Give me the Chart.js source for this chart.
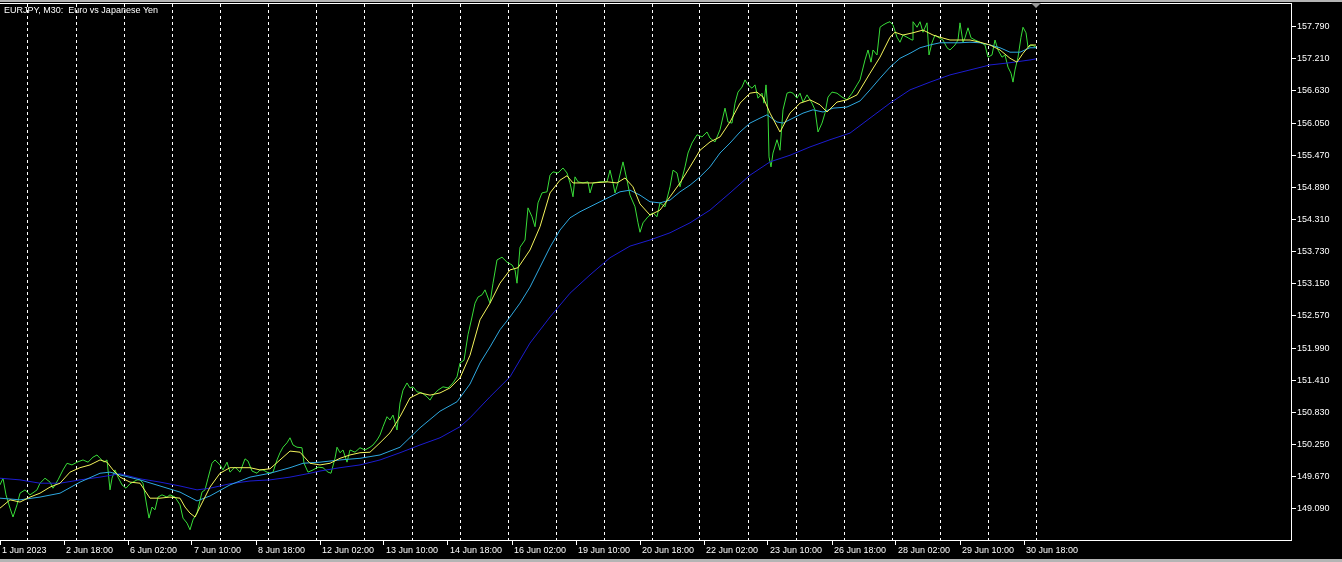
<!DOCTYPE html>
<html>
<head>
<meta charset="utf-8">
<title>EURJPY, M30</title>
<script src="https://cdn.jsdelivr.net/npm/chart.js@4.4.0/dist/chart.umd.min.js"></script>
<style>
  html, body { margin: 0; padding: 0; background: #b4b4b4; overflow: hidden; }
  #wrap { position: absolute; left: 0; top: 2px; width: 1342px; height: 557px; background: #000; }
</style>
</head>
<body>
<div id="wrap"><canvas id="chart" width="1342" height="557"></canvas></div>
<script>
// x values are M30 bar numbers counted from 1 Jun 2023 10:00
const chartTitle = 'EURJPY, M30:  Euro vs Japanese Yen';

// closing prices [bar, price]
const closeSeries = [
  [0,149.52],[3,149.64],[6,149.34],[10,149.10],[13,148.94],[17,149.16],[20,149.37],[25,149.43],[30,149.34],[34,149.39],
  [37,149.43],[40,149.55],[45,149.64],[50,149.57],[53,149.46],[58,149.61],[63,149.79],[67,149.91],[72,149.88],[77,149.93],
  [83,149.97],[88,149.93],[93,150.02],[97,150.06],[100,150.00],[104,149.93],[107,149.97],[110,149.43],[112,149.64],[115,149.79],
  [118,149.66],[122,149.52],[126,149.46],[130,149.54],[133,149.57],[137,149.61],[140,149.61],[143,149.55],[147,149.12],[149,148.92],
  [152,149.12],[155,149.07],[158,149.30],[162,149.34],[167,149.30],[170,149.34],[175,149.30],[180,149.16],[183,148.92],[187,148.83],
  [190,148.71],[193,148.89],[197,149.01],[202,149.39],[205,149.43],[208,149.64],[212,149.91],[215,149.97],[220,149.88],[223,149.79],
  [227,149.93],[230,149.75],[235,149.84],[240,149.75],[245,149.99],[248,149.95],[252,149.77],[257,149.73],[260,149.79],[263,149.79],
  [267,149.75],[270,149.73],[273,149.75],[277,149.97],[280,150.10],[283,150.20],[287,150.28],[290,150.37],[293,150.24],[297,150.20],
  [302,150.19],[304,149.91],[308,149.75],[313,149.79],[318,149.84],[323,149.83],[328,149.75],[331,149.73],[335,150.00],[337,150.20],
  [340,150.10],[343,150.15],[347,149.93],[350,150.15],[355,150.11],[360,150.19],[365,150.15],[370,150.20],[373,150.24],[377,150.33],
  [380,150.42],[383,150.57],[387,150.75],[390,150.69],[393,150.78],[397,150.51],[400,151.00],[403,151.23],[407,151.36],[410,151.27],
  [413,151.29],[417,151.20],[422,151.18],[427,151.11],[430,151.05],[433,151.14],[438,151.23],[443,151.29],[448,151.27],[453,151.36],
  [457,151.47],[460,151.72],[464,151.77],[468,152.23],[472,152.55],[475,152.80],[478,152.91],[482,152.95],[485,153.04],[490,152.80],
  [493,153.16],[497,153.58],[502,153.63],[507,153.54],[512,153.49],[515,153.40],[517,153.16],[520,153.81],[525,153.94],[528,154.52],
  [532,154.36],[535,154.18],[538,154.61],[542,154.79],[547,154.81],[550,155.11],[553,155.17],[558,155.15],[563,155.24],[567,155.15],
  [570,154.97],[573,154.72],[575,155.08],[578,154.99],[583,154.97],[588,154.99],[590,154.79],[593,154.97],[600,154.99],[607,154.99],
  [610,155.20],[613,154.97],[615,154.79],[618,154.97],[623,155.35],[627,155.02],[630,154.75],[635,154.54],[638,154.25],[640,154.08],
  [643,154.25],[648,154.36],[653,154.43],[657,154.36],[660,154.61],[665,154.54],[670,154.90],[673,155.20],[677,155.15],[680,154.90],
  [685,155.26],[688,155.51],[692,155.69],[697,155.84],[702,155.80],[707,155.89],[710,155.78],[715,155.71],[720,155.93],[725,156.32],
  [728,156.07],[732,156.05],[735,156.41],[738,156.61],[742,156.70],[745,156.83],[748,156.74],[752,156.68],[755,156.74],[758,156.50],
  [762,156.59],[764,156.41],[766,156.74],[768,156.23],[769,155.44],[771,155.26],[773,155.51],[777,155.75],[780,155.56],[783,156.29],
  [787,156.59],[790,156.61],[793,156.59],[797,156.50],[800,156.59],[803,156.43],[807,156.56],[812,156.41],[815,156.29],[818,155.89],
  [822,156.05],[825,156.23],[828,156.52],[832,156.61],[837,156.59],[842,156.52],[847,156.47],[852,156.59],[857,156.74],[860,156.83],
  [865,157.19],[868,157.37],[871,157.15],[873,157.37],[877,157.28],[880,157.78],[883,157.82],[887,157.86],[890,157.88],[893,157.82],
  [897,157.60],[900,157.51],[903,157.64],[908,157.59],[912,157.55],[913,157.88],[917,157.78],[920,157.88],[923,157.69],[927,157.86],
  [929,157.28],[932,157.50],[935,157.64],[938,157.60],[943,157.55],[947,157.41],[950,157.37],[955,157.46],[958,157.55],[960,157.86],
  [963,157.51],[965,157.59],[968,157.77],[971,157.59],[975,157.55],[980,157.51],[985,157.46],[988,157.24],[992,157.28],[995,157.55],
  [998,157.37],[1002,157.24],[1005,157.28],[1008,157.06],[1011,156.95],[1013,156.79],[1015,157.01],[1018,157.24],[1021,157.60],[1023,157.78],
  [1026,157.68],[1028,157.42],[1032,157.46],[1036,157.42]
];

// fast moving average (yellow)
const maFast = [
  [0,149.10],[10,149.25],[20,149.21],[30,149.30],[40,149.37],[50,149.48],[60,149.55],[70,149.75],[80,149.83],[90,149.88],
  [100,149.97],[107,149.93],[113,149.79],[120,149.66],[130,149.57],[140,149.55],[150,149.28],[160,149.28],[170,149.30],[180,149.28],
  [185,149.12],[190,149.01],[195,148.94],[200,149.12],[210,149.48],[220,149.73],[230,149.83],[240,149.83],[250,149.83],[260,149.79],
  [270,149.81],[280,149.97],[290,150.13],[300,150.11],[310,149.91],[320,149.88],[330,149.91],[340,150.00],[350,150.06],[360,150.10],
  [370,150.11],[380,150.28],[390,150.46],[400,150.75],[410,151.09],[420,151.18],[430,151.14],[440,151.18],[450,151.27],[460,151.45],
  [470,151.86],[480,152.50],[490,152.80],[500,153.16],[510,153.40],[518,153.44],[530,153.76],[540,154.18],[550,154.79],[560,155.02],
  [567,155.10],[573,154.97],[583,154.97],[593,154.97],[607,154.99],[617,154.97],[625,155.06],[633,154.90],[640,154.59],[650,154.39],
  [660,154.48],[670,154.72],[680,154.97],[690,155.26],[700,155.56],[710,155.71],[720,155.80],[730,156.07],[740,156.41],[750,156.59],
  [757,156.61],[763,156.52],[770,156.23],[780,155.89],[790,156.23],[800,156.41],[810,156.47],[820,156.38],[827,156.25],[837,156.43],
  [847,156.47],[857,156.56],[870,156.95],[880,157.24],[890,157.60],[895,157.69],[903,157.64],[913,157.68],[923,157.73],[933,157.64],
  [940,157.60],[950,157.55],[960,157.55],[970,157.55],[980,157.51],[990,157.46],[1000,157.37],[1010,157.22],[1017,157.15],[1023,157.31],
  [1030,157.46],[1036,157.46]
];

// medium moving average (light blue)
const maMid = [
  [0,149.28],[20,149.25],[40,149.30],[60,149.37],[80,149.57],[100,149.73],[110,149.75],[120,149.70],[140,149.61],[160,149.50],
  [180,149.39],[197,149.23],[210,149.32],[230,149.52],[250,149.66],[270,149.73],[290,149.83],[303,149.91],[320,149.93],[340,149.97],
  [360,150.00],[380,150.06],[400,150.20],[420,150.55],[440,150.85],[457,151.02],[470,151.34],[480,151.72],[490,152.01],[500,152.32],
  [510,152.55],[520,152.80],[530,153.09],[540,153.45],[550,153.81],[560,154.12],[570,154.34],[580,154.45],[590,154.54],[600,154.63],
  [610,154.72],[620,154.81],[630,154.84],[640,154.75],[650,154.63],[660,154.61],[670,154.66],[680,154.81],[690,154.93],[700,155.08],
  [710,155.26],[720,155.51],[730,155.69],[740,155.89],[750,156.05],[760,156.14],[767,156.20],[777,156.07],[783,156.05],[793,156.14],
  [803,156.23],[813,156.29],[823,156.25],[833,156.32],[847,156.34],[860,156.45],[870,156.65],[880,156.86],[890,157.06],[900,157.22],
  [910,157.31],[920,157.41],[930,157.46],[940,157.50],[960,157.50],[970,157.51],[980,157.50],[990,157.46],[1000,157.41],[1010,157.33],
  [1020,157.33],[1030,157.41],[1036,157.41]
];

// slow moving average (dark blue)
const maSlow = [
  [0,149.64],[20,149.61],[40,149.55],[60,149.55],[80,149.61],[100,149.66],[120,149.72],[140,149.63],[160,149.57],[180,149.50],
  [197,149.43],[210,149.46],[230,149.54],[250,149.59],[270,149.61],[290,149.66],[310,149.73],[320,149.77],[340,149.83],[360,149.88],
  [380,149.97],[400,150.10],[420,150.24],[440,150.37],[460,150.57],[470,150.73],[490,151.11],[510,151.47],[530,152.08],[550,152.55],
  [570,152.98],[590,153.31],[610,153.62],[630,153.83],[650,153.94],[670,154.07],[690,154.25],[710,154.48],[730,154.79],[750,155.11],
  [770,155.35],[790,155.47],[810,155.62],[830,155.75],[850,155.87],[870,156.14],[890,156.41],[910,156.65],[930,156.79],[950,156.92],
  [970,157.01],[990,157.10],[1010,157.14],[1030,157.19],[1036,157.21]
];

// axes
const yTickValues = [149.09, 149.67, 150.25, 150.83, 151.41, 151.99, 152.57, 153.15,
  153.73, 154.31, 154.89, 155.47, 156.05, 156.63, 157.21, 157.79];
const yMin = 148.525, yMax = 158.218;
const xMin = 0, xMax = 1291;
const xTickBars = [0, 64, 128, 192, 256, 320, 384, 448, 512, 576, 640, 704, 768, 832, 896, 960, 1024];
const xTickLabels = ['1 Jun 2023', '2 Jun 18:00', '6 Jun 02:00', '7 Jun 10:00', '8 Jun 18:00', '12 Jun 02:00',
  '13 Jun 10:00', '14 Jun 18:00', '16 Jun 02:00', '19 Jun 10:00', '20 Jun 18:00', '22 Jun 02:00',
  '23 Jun 10:00', '26 Jun 18:00', '28 Jun 02:00', '29 Jun 10:00', '30 Jun 18:00'];
// first bar of each trading day (period separators)
const dayStartBars = [28, 76, 124, 172, 220, 268, 316, 364, 412, 460, 508, 556, 604, 652, 700, 748, 796, 844, 892, 940, 988, 1036];
const lastBar = 1036;

const FONT = '"Liberation Sans", Arial, sans-serif';
const toPts = rows => rows.map(r => ({ x: r[0], y: r[1] }));

// title text and the chart shift marker
const overlayPlugin = {
  id: 'overlay',
  afterDraw(chart) {
    const ctx = chart.ctx;
    ctx.save();
    ctx.fillStyle = '#fff';
    ctx.font = '9px ' + FONT;
    ctx.textBaseline = 'middle';
    ctx.fillText(chartTitle, 4, 9);
    const px = chart.scales.x.getPixelForValue(lastBar);
    const top = chart.chartArea.top;
    ctx.fillStyle = '#9a9a9a';
    ctx.beginPath();
    ctx.moveTo(px - 5, top);
    ctx.lineTo(px + 5, top);
    ctx.lineTo(px, top + 5);
    ctx.closePath();
    ctx.fill();
    ctx.restore();
  }
};

new Chart(document.getElementById('chart'), {
  type: 'line',
  data: {
    datasets: [
      { label: 'MA fast', data: toPts(maFast), borderColor: '#f4f45c', borderWidth: 1 },
      { label: 'MA mid', data: toPts(maMid), borderColor: '#2ea8e0', borderWidth: 1 },
      { label: 'MA slow', data: toPts(maSlow), borderColor: '#1c1cd0', borderWidth: 1 },
      { label: 'Close', data: toPts(closeSeries), borderColor: '#38dc38', borderWidth: 1 }
    ]
  },
  options: {
    responsive: false,
    animation: false,
    devicePixelRatio: 1,
    layout: { padding: { top: 1, left: 0, right: 0, bottom: 0 } },
    elements: { point: { radius: 0 }, line: { tension: 0, fill: false } },
    plugins: { legend: { display: false }, tooltip: { enabled: false } },
    scales: {
      x: {
        type: 'linear', position: 'bottom', min: xMin, max: xMax,
        afterBuildTicks: s => { s.ticks = xTickBars.map(v => ({ value: v })); },
        afterFit: s => { s.height = 19; s.paddingLeft = 0; s.paddingRight = 0; },
        grid: { drawOnChartArea: false, drawTicks: true, tickLength: 5, color: '#fff' },
        border: { color: '#fff', width: 1 },
        ticks: {
          color: '#fff', font: { family: FONT, size: 9 }, align: 'start',
          maxRotation: 0, autoSkip: false, padding: 0, labelOffset: 2,
          callback: v => xTickLabels[xTickBars.indexOf(v)]
        }
      },
      sep: {
        type: 'linear', position: 'top', min: xMin, max: xMax,
        afterBuildTicks: s => { s.ticks = dayStartBars.map(v => ({ value: v })); },
        afterFit: s => { s.height = 0; s.paddingLeft = 0; s.paddingRight = 0; },
        grid: { drawOnChartArea: true, drawTicks: false, color: '#fff' },
        border: { display: true, color: '#fff', width: 1, dash: [3, 3] },
        ticks: { display: false }
      },
      y: {
        position: 'right', min: yMin, max: yMax,
        afterBuildTicks: s => { s.ticks = yTickValues.map(v => ({ value: v })); },
        afterFit: s => { s.width = 51; s.paddingTop = 0; s.paddingBottom = 0; },
        grid: { drawOnChartArea: false, tickLength: 5, color: '#fff' },
        border: { color: '#fff', width: 1 },
        ticks: { color: '#fff', font: { family: FONT, size: 9 }, padding: 1, callback: v => v.toFixed(3) }
      }
    }
  },
  plugins: [overlayPlugin]
});
</script>
</body>
</html>
